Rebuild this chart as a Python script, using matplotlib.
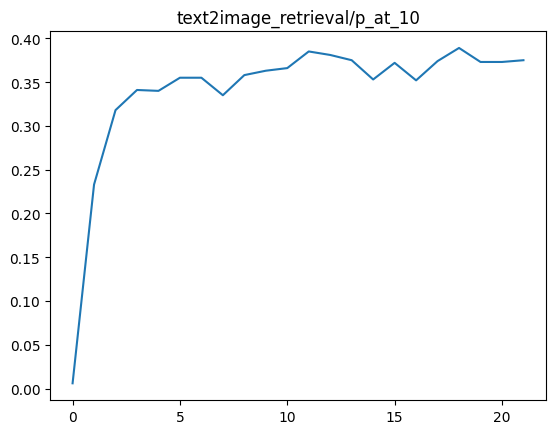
import matplotlib
matplotlib.use("Agg")
import matplotlib.pyplot as plt

steps = list(range(22))
p_at_10 = [0.006, 0.233, 0.318, 0.341, 0.340, 0.355, 0.355, 0.335, 0.358, 0.363,
           0.366, 0.385, 0.381, 0.375, 0.353, 0.372, 0.352, 0.374, 0.389, 0.373,
           0.373, 0.375]

fig, ax = plt.subplots(figsize=(5.56, 4.35), dpi=100)
ax.plot(steps, p_at_10)
ax.set_title("text2image_retrieval/p_at_10")
fig.subplots_adjust(left=0.090, right=0.982, bottom=0.078, top=0.926)
fig.savefig("out.png")
